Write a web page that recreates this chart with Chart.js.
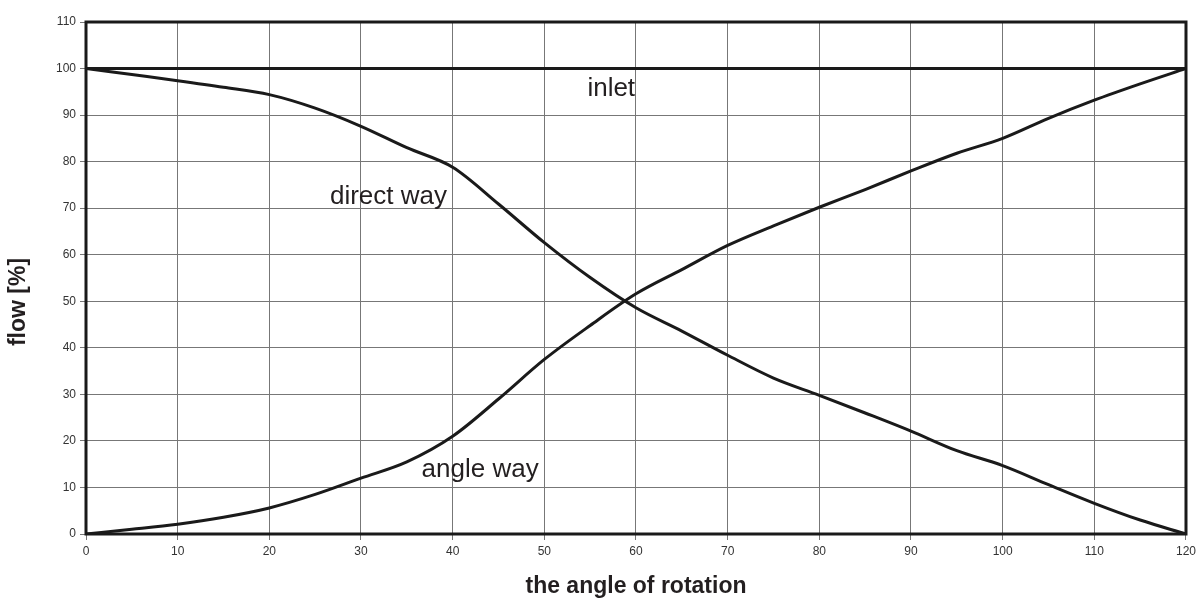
<!DOCTYPE html>
<html>
<head>
<meta charset="utf-8">
<script src="https://cdn.jsdelivr.net/npm/chart.js@4/dist/chart.umd.min.js"></script>
<style>
  html, body { margin: 0; padding: 0; background: #fff; }
  #wrap { width: 1200px; height: 604px; }
</style>
</head>
<body>
<div id="wrap"><canvas id="myChart" width="1200" height="604"></canvas></div>
<script>
// angle of rotation (x) and flow values
const angles = [0, 5, 10, 15, 20, 25, 30, 35, 40, 45, 50, 55, 60, 65, 70, 75, 80, 85, 90, 95, 100, 105, 110, 115, 120];
const directWay = [100, 98.7, 97.4, 96, 94.4, 91.5, 87.6, 83, 78.8, 70.9, 62.6, 55.1, 48.6, 43.6, 38.4, 33.5, 29.8, 26, 22.1, 17.9, 14.7, 10.6, 6.6, 3, 0];
const angleWay = [0, 1, 2.1, 3.6, 5.6, 8.5, 12, 15.5, 21, 29, 37.5, 44.8, 51.6, 56.8, 62, 66.2, 70.2, 74, 78, 81.8, 85, 89.3, 93.2, 96.7, 100];
const inletX = [0, 120];
const inletY = [100, 100];

// curve labels placed at data positions
const curveLabels = [
  { text: 'inlet', x: 57.3, y: 95.6 },
  { text: 'direct way', x: 33.0, y: 72.4 },
  { text: 'angle way', x: 43.0, y: 13.7 }
];
const yTitle = 'flow [%]';

const toPoints = (xs, ys) => xs.map((x, i) => ({ x: x, y: ys[i] }));

// frame around the plot, text next to the curves, y axis title
const framePlugin = {
  id: 'frame',
  afterDatasetsDraw(chart) {
    const ctx = chart.ctx;
    const a = chart.chartArea;
    const xs = chart.scales.x, ys = chart.scales.y;
    ctx.save();
    ctx.strokeStyle = '#1a1a1a';
    ctx.lineWidth = 3;
    ctx.strokeRect(a.left, a.top, a.right - a.left, a.bottom - a.top);
    ctx.fillStyle = '#231f20';
    ctx.font = '26px "Liberation Sans", Arial, sans-serif';
    ctx.textAlign = 'center';
    ctx.textBaseline = 'middle';
    curveLabels.forEach(l => {
      ctx.fillText(l.text, xs.getPixelForValue(l.x), ys.getPixelForValue(l.y));
    });
    // y axis title, centred on the whole picture height like the original
    ctx.translate(19, chart.height / 2);
    ctx.rotate(-Math.PI / 2);
    ctx.font = 'bold 23px "Liberation Sans", Arial, sans-serif';
    ctx.fillText(yTitle, 0, 0);
    ctx.restore();
  }
};

let canva = document.getElementById('myChart').getContext('2d');

const lineStyle = {
  borderColor: '#1a1a1a',
  borderWidth: 3,
  pointRadius: 0,
  fill: false,
  cubicInterpolationMode: 'monotone'
};

let myChart = new Chart(canva, {
  type: 'line',
  data: {
    datasets: [
      Object.assign({ label: 'inlet', data: toPoints(inletX, inletY) }, lineStyle),
      Object.assign({ label: 'direct way', data: toPoints(angles, directWay) }, lineStyle),
      Object.assign({ label: 'angle way', data: toPoints(angles, angleWay) }, lineStyle)
    ]
  },
  options: {
    responsive: false,
    animation: false,
    layout: { padding: { top: 22, right: 12, left: 0, bottom: 0 } },
    plugins: {
      legend: { display: false },
      tooltip: { enabled: false }
    },
    scales: {
      x: {
        type: 'linear',
        min: 0,
        max: 120,
        ticks: {
          stepSize: 10,
          color: '#333',
          font: { family: '"Liberation Sans", Arial, sans-serif', size: 12 },
          padding: 4,
          maxRotation: 0
        },
        grid: { color: '#777', lineWidth: 1, tickLength: 6 },
        border: { display: false },
        title: {
          display: true,
          text: 'the angle of rotation',
          color: '#231f20',
          font: { family: '"Liberation Sans", Arial, sans-serif', size: 23, weight: 'bold' },
          padding: { top: 21 }
        },
        afterFit(scale) { scale.height = 70; }
      },
      y: {
        min: 0,
        max: 110,
        ticks: {
          stepSize: 10,
          color: '#333',
          font: { family: '"Liberation Sans", Arial, sans-serif', size: 12 },
          padding: 4
        },
        grid: { color: '#777', lineWidth: 1, tickLength: 6 },
        border: { display: false },
        afterFit(scale) { scale.width = 86; }
      }
    }
  },
  plugins: [framePlugin]
});
</script>
</body>
</html>
